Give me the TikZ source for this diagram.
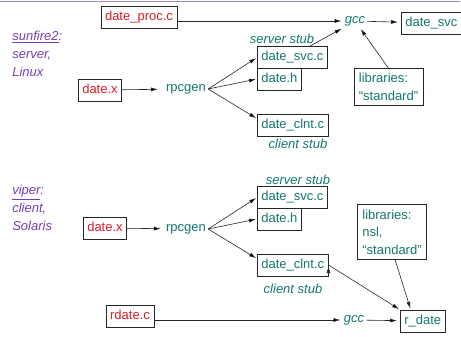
\documentclass[tikz,border=0pt]{standalone}
\usepackage{fontspec}
\setmainfont{Liberation Sans}
\usetikzlibrary{arrows.meta,shadows}

\definecolor{srcred}{RGB}{215,30,40}
\definecolor{genteal}{RGB}{20,120,110}
\definecolor{hostpurple}{RGB}{120,60,180}
\definecolor{rulelav}{RGB}{140,140,215}

\begin{document}
\begin{tikzpicture}[x=1pt,y=-1pt,>={Latex[length=7pt,width=4pt]},shorten >=1pt,
    line width=0.6pt,font=\fontsize{13}{17.5}\selectfont,
    file/.style={draw=black!85,fill=white,inner xsep=4pt,inner ysep=0pt,
      minimum height=22pt,text height=9.5pt,text depth=2.8pt,
      drop shadow={shadow xshift=0.5pt,shadow yshift=-0.9pt,fill=black!35}},
    src/.style={file,text=srcred},
    gen/.style={file,text=genteal,anchor=west},
    lib/.style={draw=black!85,fill=white,text=genteal,align=left,inner xsep=5pt,
      inner ysep=5pt,drop shadow={shadow xshift=0.5pt,shadow yshift=-0.9pt,fill=black!35}},
    tool/.style={text=genteal,inner sep=2pt},
    note/.style={text=genteal,font=\fontsize{13}{17.5}\selectfont\itshape,inner sep=1pt},
    host/.style={text=hostpurple,font=\fontsize{13}{18}\selectfont\itshape,
      align=left,anchor=north west,inner sep=1pt}]

\useasboundingbox (0,0) rectangle (461,337);
\draw[rulelav,line width=1pt] (0,2) -- (461,2);

% sunfire2: server side
\node[host] (sun) at (11,30) {\underline{sunfire2}:\\server,\\Linux};
\node[src] (proc1) at (139,17.5) {date\_proc.c};
\node[tool,font=\fontsize{13}{17.5}\selectfont\itshape] (gcc1) at (355,21) {gcc};
\node[gen] (svcbin) at (401,23) {date\_svc};
\node[src] (x1) at (100,90) {date.x};
\node[tool] (gen1) at (186,89) {rpcgen};
\node[note] (ss1) at (282,39) {server stub};
\node[gen] (svc1) at (257,57.5) {date\_svc.c};
\node[gen] (h1) at (257,79) {date.h};
\node[gen] (clnt1) at (257,125) {date\_clnt.c};
\node[note] (cs1) at (298,144) {client stub};
\node[lib] (lib1) at (388.5,87) {libraries:\\“standard”};

% viper: client side
\node[host] (viper) at (11,184) {\underline{viper}:\\client,\\Solaris};
\node[src] (x2) at (105,228) {date.x};
\node[tool] (gen2) at (186,229) {rpcgen};
\node[note] (ss2) at (298,180) {server stub};
\node[gen] (svc2) at (257,197.5) {date\_svc.c};
\node[gen] (h2) at (257,219) {date.h};
\node[gen] (clnt2) at (257,265) {date\_clnt.c};
\node[note] (cs2) at (293,289) {client stub};
\node[lib] (lib2) at (392,232) {libraries:\\nsl,\\“standard”};
\node[src] (rc) at (130,316) {rdate.c};
\node[tool,font=\fontsize{13}{17.5}\selectfont\itshape] (gcc2) at (354,320) {gcc};
\node[gen] (rd) at (400,321) {r\_date};

\path[->,draw=black!85]
([yshift=-3.5pt]proc1.east) edge (gcc1)
(gcc1) edge[shorten >=3pt] (svcbin)
(x1) edge[shorten >=6pt] (gen1)
(gen1.east) edge (svc1.west)
(gen1.east) edge (h1.west)
(gen1.east) edge (clnt1.170)
([xshift=-18pt]svc1.north east) edge (gcc1.south west)
(lib1.north) edge (gcc1)
(x2) edge[shorten >=3pt] (gen2)
(gen2.east) edge (svc2.west)
(gen2.east) edge (h2.west)
(gen2.east) edge (clnt2.170)
([yshift=-4pt]rc.east) edge (gcc2)
(gcc2) edge[shorten >=3pt] (rd)
(clnt2.east) edge (rd.north west)
;
\draw[->,black!85] ([xshift=3pt]lib2.south) -- ([xshift=-12pt]rd.north);

\end{tikzpicture}
\end{document}
